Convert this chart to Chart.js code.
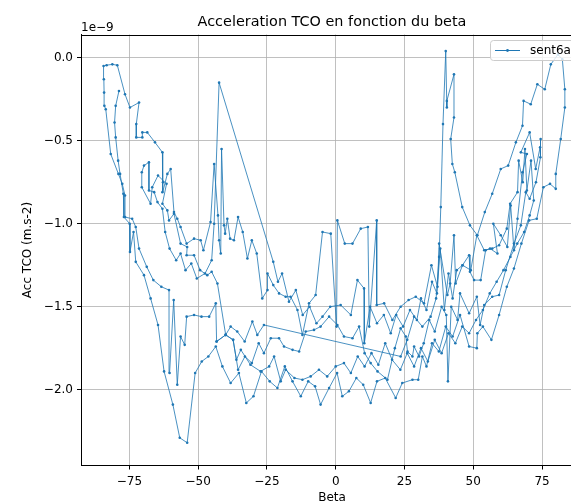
<!DOCTYPE html>
<html>
<head>
<meta charset="utf-8">
<script src="https://cdn.jsdelivr.net/npm/chart.js@4.4.0/dist/chart.umd.min.js"></script>
<style>
  html, body { margin: 0; padding: 0; background: #fff; overflow: hidden; }
  #wrap { position: relative; width: 620px; height: 502px; }
</style>
</head>
<body>
<div id="wrap"><canvas id="chart" width="620" height="502"></canvas></div>
<script>
// ── data : [beta, acc] with acc in units of 1e-9 m.s-2 ──
const passLeftDown = [
  [-78.8,-0.20],[-80.0,-0.29],[-80.4,-0.39],[-80.0,-0.48],[-79.1,-0.62],[-78.4,-0.70],[-77.2,-0.82],[-77.0,-0.96],
  [-74.9,-1.00],[-74.8,-1.17],[-73.5,-1.05],[-72.7,-1.23],[-69.7,-1.31],[-67.3,-1.45],[-64.6,-1.61],[-62.4,-1.89],
  [-59.2,-2.09],[-56.7,-2.29],[-54.0,-2.32],[-51.1,-1.90],[-48.7,-1.83],[-46.3,-1.80],[-43.6,-1.74],[-41.2,-1.86],
  [-38.2,-1.96],[-35.2,-1.90],[-32.5,-2.08],[-29.9,-2.04],[-27.0,-1.89],[-24.0,-1.95],[-21.2,-1.99],[-18.5,-1.86],
  [-15.7,-1.95],[-12.7,-2.04],[-10.0,-1.95],[-7.5,-1.98],[-5.5,-2.09],[-2.4,-1.99],[0.5,-1.90],[2.4,-2.04],
  [4.8,-2.01],[7.5,-1.93],[10.0,-1.97],[12.7,-2.08],[15.0,-1.95],[18.0,-1.93],[21.8,-2.05],[24.2,-1.96]
];
const passRightOuter = [
  [27.9,-1.94],[30.0,-1.94],[31.5,-1.80],[33.0,-1.86],[35.0,-1.72],[37.5,-1.77],[40.0,-1.62],[42.5,-1.68],
  [45.2,-1.55],[48.5,-1.74],[51.3,-1.75],[51.5,-1.66],[53.5,-1.62],[56.6,-1.70],[59.4,-1.55],[62.2,-1.38],
  [64.8,-1.27],[67.5,-1.12],[70.3,-0.98],[73.1,-0.97],[75.5,-0.78],[77.9,-0.76],[80.0,-0.79],[80.0,-0.70],
  [81.8,-0.49],[83.3,-0.30],[83.3,-0.19],[82.4,-0.01],[80.8,0.02],[78.2,-0.04],[76.0,-0.19],[73.3,-0.16],
  [70.9,-0.28],[68.3,-0.26],[67.9,-0.41],[65.5,-0.51],[62.7,-0.65],[60.0,-0.67],[56.9,-0.82],[54.2,-0.93],
  [51.5,-1.07],[48.8,-1.01],[46.0,-0.90],[43.3,-0.69],[42.4,-0.64],[41.8,-0.49],[43.0,-0.36],[43.0,-0.10],
  [40.4,-0.26],[40.4,-0.30],[40.0,0.04],[39.0,-0.40],[38.2,-0.90],[37.6,-1.20],[36.5,-1.45],[34.5,-1.56],
  [31.5,-1.62],[28.5,-1.56],[26.0,-1.70]
];
const passBandUp = [
  [23.6,-1.80],[-26.1,-1.61],[-28.5,-1.67],[-30.3,-1.59],[-33.1,-1.71],[-35.8,-1.65],[-38.2,-1.62],[-40.0,-1.67],
  [-43.3,-1.71],[-43.6,-1.48],[-46.0,-1.56],[-48.8,-1.56],[-51.5,-1.55],[-54.2,-1.56],[-54.9,-1.73],[-56.4,-1.68],
  [-57.6,-1.97],[-58.9,-1.46],[-60.4,-1.90],[-60.6,-1.40],[-63.4,-1.38],[-66.3,-1.34],[-68.7,-1.26],[-71.5,-1.15],
  [-72.7,-1.02],[-74.0,-0.97],[-76.6,-0.96],[-76.6,-0.83],[-77.6,-0.76],[-79.0,-0.70],[-81.8,-0.58],[-83.6,-0.31],
  [-84.1,-0.29],[-84.2,-0.21],[-84.3,-0.13],[-84.4,-0.05],[-83.3,-0.045],[-81.2,-0.04],[-79.4,-0.045]
];
const passZigzag = [
  [-76.6,-0.22],[-74.8,-0.30],[-71.5,-0.27],[-72.5,-0.40],[-72.5,-0.48],[-70.3,-0.48],[-70.3,-0.45],[-68.5,-0.45],
  [-65.7,-0.51],[-63.0,-0.57],[-62.8,-0.75],[-63.0,-0.81],[-61.2,-0.70],[-60.0,-0.67],[-58.8,-0.93],[-57.6,-0.97],
  [-56.4,-1.02],[-54.2,-1.12],[-51.5,-1.09],[-49.1,-1.10],[-48.1,-1.16],[-45.5,-0.99],[-44.2,-0.64],[-42.8,-0.95],
  [-42.4,-1.10],[-41.8,-1.18],[-41.5,-0.55],[-40.6,-1.01],[-40.2,-1.06],[-39.4,-0.97],[-38.4,-1.09],[-37.0,-1.10],
  [-35.5,-0.96],[-33.8,-1.05],[-32.1,-1.21],[-30.5,-1.10],[-28.7,-1.18],[-26.7,-1.45],[-24.8,-1.40],[-24.8,-1.30],
  [-22.7,-1.37],[-20.6,-1.42],[-18.2,-1.44],[-16.4,-1.44],[-13.9,-1.52],[-12.1,-1.67],[-9.7,-1.48],[-7.3,-1.43],
  [-4.8,-1.05],[-1.8,-1.06],[0.3,-1.62],[0.6,-0.98],[3.3,-1.12],[6.1,-1.12],[9.1,-1.03],[11.7,-1.02],
  [12.2,-1.62],[14.9,-0.98],[14.9,-1.49],[17.6,-1.48],[20.6,-1.58],[23.6,-1.50],[26.5,-1.46],[29.1,-1.44],
  [32.1,-1.48],[34.8,-1.25],[37.0,-1.38],[37.6,-1.12],[40.6,-1.43],[41.6,-1.36],[43.0,-1.07],[43.6,-1.36],
  [46.1,-1.25],[48.5,-1.19],[48.8,-1.29],[50.3,-1.34],[52.7,-1.34],[54.5,-1.16],[56.1,-1.15],[58.8,-1.18],
  [57.3,-1.00],[60.0,-1.07],[62.4,-1.14],[63.6,-0.89],[64.8,-1.16],[66.1,-0.97],[67.9,-0.69],[69.5,-0.58],
  [67.3,-0.57],[70.5,-0.45],[72.7,-0.67],[74.3,-0.54],[74.5,-0.49],[74.4,-0.60]
];
const passMidDown = [
  [72.8,-0.75],[70.5,-0.85],[69.1,-0.81],[67.3,-1.01],[64.8,-1.12],[61.8,-1.28],[59.4,-1.43],[56.9,-1.44],
  [54.0,-1.49],[52.5,-1.61],[51.3,-1.44],[48.5,-1.54],[45.2,-1.42],[44.3,-1.58],[42.0,-1.50],[40.8,-1.95],
  [40.2,-1.55],[38.5,-1.50],[36.0,-1.65],[34.0,-1.58],[32.0,-1.72],[30.3,-1.80],[28.5,-1.74],[27.9,-1.80],
  [26.1,-1.77],[25.5,-1.68],[23.6,-1.63],[21.5,-1.75],[18.8,-1.94],[15.2,-1.89],[12.7,-1.84],[10.5,-1.78],
  [8.5,-1.62],[6.1,-1.69],[3.0,-1.68],[0.6,-1.61],[-2.4,-1.56],[-5.5,-1.62],[-7.9,-1.64],[-10.9,-1.65],
  [-13.3,-1.77],[-15.7,-1.76],[-18.8,-1.74],[-20.6,-1.69],[-23.6,-1.69],[-26.1,-1.78],[-28.0,-1.72],[-30.5,-1.84],
  [-33.0,-1.80],[-35.5,-1.88],[-37.3,-1.70],[-40.0,-1.67],[-43.0,-1.36],[-45.1,-1.29],[-46.7,-1.31],[-49.3,-1.28],
  [-51.5,-1.19],[-54.2,-1.19],[-54.0,-1.14],[-56.4,-1.12],[-58.8,-0.94],[-60.6,-0.98],[-61.2,-0.92],[-63.0,-0.88],
  [-61.5,-0.76],[-64.6,-0.71],[-66.7,-0.78],[-67.3,-0.88],[-70.5,-0.78],[-70.5,-0.69],[-69.7,-0.65]
];
const passSpike = [
  [-67.9,-0.63],[-67.9,-0.80],[-66.0,-0.81],[-64.8,-0.87],[-63.0,-0.91],[-62.0,-1.05],[-60.4,-1.15],[-58.0,-1.22],
  [-56.4,-1.18],[-54.6,-1.28],[-52.5,-1.24],[-50.5,-1.33],[-47.5,-1.30],[-45.1,-1.22],[-44.2,-1.00],[-42.4,-0.15],
  [-22.7,-1.23],[-21.0,-1.35],[-19.5,-1.30],[-17.0,-1.47],[-14.5,-1.40],[-12.0,-1.55],[-9.5,-1.50],[-7.0,-1.60],
  [-4.8,-1.56],[-2.0,-1.50],[1.8,-1.49],[5.5,-1.55],[7.9,-1.34],[10.3,-1.39],[10.4,-1.72],[12.5,-1.50],
  [15.0,-1.60],[17.5,-1.55],[20.0,-1.66],[22.0,-1.55],[24.5,-1.62],[27.0,-1.52],[29.5,-1.58],[31.0,-1.45],
  [33.0,-1.52],[35.0,-1.35],[36.8,-1.42],[38.0,-1.15],[39.5,-1.52],[41.0,-1.30],[42.5,-1.45],[44.0,-1.28],
  [46.1,-1.25],[49.1,-1.28],[51.3,-1.07],[54.0,-1.16],[56.9,-1.15],[59.4,-1.13],[62.2,-1.03],[63.4,-0.88],
  [66.1,-0.81],[66.5,-0.62],[68.0,-0.75],[68.8,-0.55],[69.5,-0.80],[71.0,-0.62],[72.0,-0.86]
];
const passLowBand = [
  [70.5,-0.95],[68.5,-1.05],[66.0,-1.12],[63.5,-1.20],[61.0,-1.28],[58.5,-1.35],[56.0,-1.42],[53.5,-1.52],
  [51.0,-1.58],[48.5,-1.66],[46.0,-1.62],[43.5,-1.72],[41.0,-1.66],[38.5,-1.78],[36.0,-1.70],[33.5,-1.83],
  [31.0,-1.75],[28.5,-1.86],[26.0,-1.78],[23.5,-1.88],[20.5,-1.82],[18.0,-1.72],[15.5,-1.85],[13.0,-1.78],
  [10.5,-1.86],[8.0,-1.80],[5.5,-1.90],[3.0,-1.84],[0.0,-1.86],[-3.1,-1.92],[-6.1,-1.88],[-9.1,-1.92],
  [-12.1,-1.94],[-15.0,-1.93],[-18.2,-1.88],[-20.0,-1.95],[-22.4,-1.80],[-24.2,-1.86],[-27.3,-1.89],[-31.0,-1.85],
  [-34.5,-1.76],[-36.1,-1.82],[-37.3,-1.70],[-40.0,-1.67],[-43.3,-1.71]
];
const xTicks = [-75, -50, -25, 0, 25, 50, 75];
const yTicks = [-2.0, -1.5, -1.0, -0.5, 0.0];
const seriesLabel = 'sent6a';
const BLUE = '#1f77b4';
const FONT = '"DejaVu Sans", sans-serif';

const allPoints = [].concat(passLeftDown, passRightOuter, passBandUp, passZigzag, passMidDown, passSpike, passLowBand)
  .map(p => ({ x: p[0], y: p[1] }));

const minus = (s) => s.replace('-', '\u2212');

// matplotlib-like extras: title, offset text, axis labels, top/right spines, legend
const decorations = {
  id: 'decorations',
  afterDraw(chart) {
    const { ctx, chartArea: a } = chart;
    ctx.save();
    ctx.strokeStyle = '#000'; ctx.lineWidth = 1;
    ctx.beginPath();
    ctx.moveTo(a.left, Math.round(a.top) + 0.5); ctx.lineTo(a.right, Math.round(a.top) + 0.5);
    ctx.moveTo(Math.round(a.right) + 0.5, a.top); ctx.lineTo(Math.round(a.right) + 0.5, a.bottom);
    ctx.stroke();

    const cx = (a.left + a.right) / 2;
    ctx.fillStyle = '#000';
    ctx.textAlign = 'center'; ctx.textBaseline = 'alphabetic';
    ctx.font = '14.4px ' + FONT;
    ctx.fillText('Acceleration TCO en fonction du beta', cx, 26);
    ctx.font = '12px ' + FONT;
    ctx.fillText('Beta', cx, 501);
    ctx.textAlign = 'left';
    ctx.fillText('1e\u22129', a.left, 30.5);
    ctx.save();
    ctx.translate(28, (a.top + a.bottom) / 2);
    ctx.rotate(-Math.PI / 2);
    ctx.textAlign = 'center'; ctx.textBaseline = 'middle';
    ctx.fillText('Acc TCO (m.s-2)', 0, 0);
    ctx.restore();

    // legend
    const lx = 490.5, ly = 40.5, lw = 110, lh = 20;
    ctx.beginPath();
    ctx.roundRect(lx, ly, lw, lh, 3);
    ctx.fillStyle = 'rgba(255,255,255,0.8)'; ctx.fill();
    ctx.strokeStyle = '#cccccc'; ctx.lineWidth = 1; ctx.stroke();
    ctx.strokeStyle = BLUE; ctx.lineWidth = 1;
    ctx.beginPath(); ctx.moveTo(495, 50.5); ctx.lineTo(520, 50.5); ctx.stroke();
    ctx.fillStyle = BLUE;
    ctx.beginPath(); ctx.arc(507.5, 50.5, 1.4, 0, Math.PI * 2); ctx.fill();
    ctx.fillStyle = '#000'; ctx.textBaseline = 'middle';
    ctx.fillText(seriesLabel, 530, 51);
    ctx.restore();
  }
};

new Chart(document.getElementById('chart'), {
  type: 'scatter',
  data: {
    datasets: [{
      label: seriesLabel, data: allPoints, showLine: true,
      borderColor: 'rgba(31,119,180,0.9)', borderWidth: 0.9,
      pointRadius: 1.3, pointBackgroundColor: BLUE, pointBorderWidth: 0, pointHoverRadius: 0
    }]
  },
  options: {
    responsive: false, animation: false,
    layout: { padding: { left: 0, right: 37, top: 34.5, bottom: 0 } },
    plugins: { legend: { display: false }, title: { display: false }, tooltip: { enabled: false } },
    scales: {
      x: {
        type: 'linear', min: -92.6, max: 89.9,
        afterFit: s => { s.height = 36.5; },
        afterBuildTicks: s => { s.ticks = xTicks.map(v => ({ value: v })); },
        ticks: { autoSkip: false, maxRotation: 0, padding: 5, color: '#000', font: { family: FONT, size: 12 },
                 callback: v => minus(String(v)) },
        grid: { color: '#b0b0b0', lineWidth: 0.8, tickLength: 4, tickColor: '#000', tickWidth: 1 },
        border: { display: true, color: '#000', width: 1 }
      },
      y: {
        type: 'linear', min: -2.457, max: 0.14,
        afterFit: s => { s.width = 81; },
        afterBuildTicks: s => { s.ticks = yTicks.map(v => ({ value: v })); },
        ticks: { autoSkip: false, padding: 4, color: '#000', font: { family: FONT, size: 12 },
                 callback: v => minus(v.toFixed(1)) },
        grid: { color: '#b0b0b0', lineWidth: 0.8, tickLength: 4, tickColor: '#000', tickWidth: 1 },
        border: { display: true, color: '#000', width: 1 }
      }
    }
  },
  plugins: [decorations]
});
</script>
</body>
</html>
